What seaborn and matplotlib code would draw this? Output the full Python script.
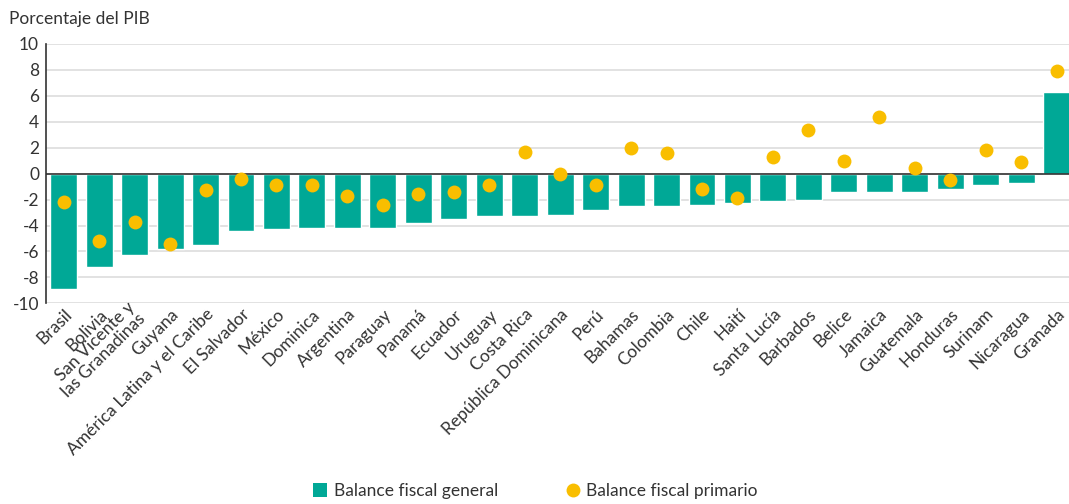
import numpy as np
import matplotlib
matplotlib.use("Agg")
import matplotlib.pyplot as plt
import matplotlib.transforms as mtransforms
import seaborn as sns
import pandas as pd
from matplotlib.lines import Line2D

# Data
paises = ["Brasil", "Bolivia", "San Vicente y\nlas Granadinas", "Guyana",
          "América Latina y el Caribe", "El Salvador", "México", "Dominica",
          "Argentina", "Paraguay", "Panamá", "Ecuador", "Uruguay", "Costa Rica",
          "República Dominicana", "Perú", "Bahamas", "Colombia", "Chile", "Haití",
          "Santa Lucía", "Barbados", "Belice", "Jamaica", "Guatemala", "Honduras",
          "Surinam", "Nicaragua", "Granada"]
balance_general = [-8.9, -7.2, -6.3, -5.8, -5.5, -4.4, -4.3, -4.2, -4.2, -4.2,
                   -3.8, -3.5, -3.3, -3.3, -3.2, -2.8, -2.5, -2.5, -2.4, -2.3,
                   -2.1, -2.0, -1.4, -1.4, -1.4, -1.2, -0.9, -0.7, 6.3]
balance_primario = [-2.2, -5.2, -3.7, -5.4, -1.3, -0.4, -0.9, -0.9, -1.7, -2.4,
                    -1.6, -1.4, -0.9, 1.7, 0.0, -0.9, 2.0, 1.6, -1.2, -1.9,
                    1.3, 3.4, 1.0, 4.4, 0.4, -0.5, 1.8, 0.9, 7.9]
y_ticks = [-10, -8, -6, -4, -2, 0, 2, 4, 6, 8, 10]

verde = "#00A896"
amarillo = "#F9BE00"
texto = "#333333"

frame = pd.DataFrame({"Pais": paises, "General": balance_general,
                      "Primario": balance_primario})

sns.set_style("white")
plt.rcParams["font.family"] = ["Lato", "DejaVu Sans"]
plt.rcParams["axes.unicode_minus"] = False
plt.rcParams["text.color"] = texto

fig = plt.figure(figsize=(10.69, 5.04), dpi=100)
ax = fig.add_axes([0.043, 0.398, 0.957, 0.515])

sns.barplot(data=frame, x="Pais", y="General", color=verde, width=0.76,
            saturation=1, ax=ax, zorder=2)
sns.stripplot(data=frame, x="Pais", y="Primario", color=amarillo, jitter=False,
              size=10, linewidth=0, ax=ax, zorder=4)

ax.set_ylim(-10, 10)
ax.set_xlim(-0.5, 28.35)
ax.set_yticks(y_ticks)
ax.set_yticklabels([str(t) for t in y_ticks], fontsize=12.5, color=texto)
ax.tick_params(axis="y", length=0, pad=5)
ax.tick_params(axis="x", length=0, pad=2)
ax.set_xticks(range(len(paises)))
ax.set_xticklabels(paises, rotation=45, ha="right", rotation_mode="anchor",
                   fontsize=12.5, color=texto, linespacing=0.95)
# two-line label: nudge it up-left so it clears the neighbours
for lab in ax.get_xticklabels():
    if "\n" in lab.get_text():
        shift = mtransforms.ScaledTranslation(-6 / 72, 5 / 72, fig.dpi_scale_trans)
        lab.set_transform(lab.get_transform() + shift)
ax.set_xlabel("")
ax.set_ylabel("")

ax.grid(axis="y", color="#dddddd", linewidth=1.2, zorder=0)
ax.set_axisbelow(True)
ax.axhline(0, color="#333333", linewidth=1.2, zorder=3)
for s in ["top", "right", "bottom"]:
    ax.spines[s].set_visible(False)
ax.spines["left"].set_color("#333333")
ax.spines["left"].set_linewidth(1.2)

fig.text(0.008, 0.962, "Porcentaje del PIB", fontsize=12.5, color=texto,
         ha="left", va="center")

handles = [Line2D([], [], marker="s", linestyle="", markersize=10,
                  markerfacecolor=verde, markeredgewidth=0),
           Line2D([], [], marker="o", linestyle="", markersize=10,
                  markerfacecolor=amarillo, markeredgewidth=0)]
fig.legend(handles, ["Balance fiscal general", "Balance fiscal primario"],
           loc="lower center", bbox_to_anchor=(0.5, -0.022), ncol=2,
           frameon=False, fontsize=12.5, columnspacing=3.8, handletextpad=0.3,
           handlelength=1.0)

fig.savefig("out.png", dpi=100)
